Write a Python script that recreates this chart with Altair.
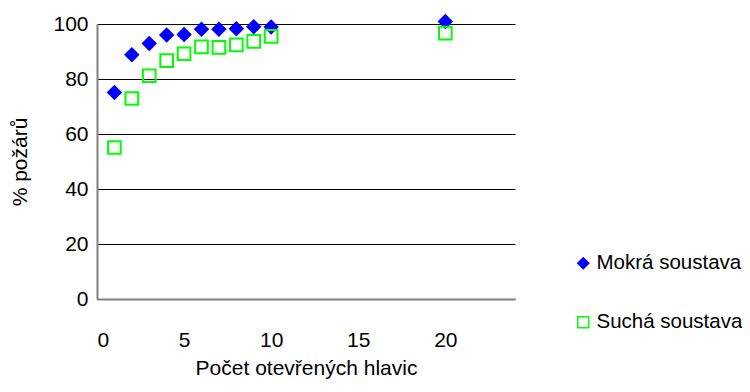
import altair as alt
import pandas as pd

x_vals = [1, 2, 3, 4, 5, 6, 7, 8, 9, 10, 20]
mokra = [75.1, 88.8, 92.9, 96.0, 96.2, 98.1, 98.1, 98.3, 99.0, 98.9, 100.9]
sucha = [55.1, 72.9, 81.2, 86.7, 89.2, 91.7, 91.5, 92.4, 93.7, 95.5, 96.7]
series = ["Mokrá soustava", "Suchá soustava"]

rows = []
for x, m, s in zip(x_vals, mokra, sucha):
    rows.append({"x": x, "y": m, "s": series[0]})
    rows.append({"x": x, "y": s, "s": series[1]})
df = pd.DataFrame(rows)

FONT = "Liberation Sans"

leg = dict(title=None, orient="none", legendX=476, legendY=229)

chart = alt.Chart(df).mark_point(strokeWidth=2, size=160, opacity=1).encode(
    x=alt.X("x:Q", scale=alt.Scale(domain=[0, 24], nice=False),
            axis=alt.Axis(values=[0, 5, 10, 15, 20], title="Počet otevřených hlavic",
                          grid=False, ticks=False, domainColor="#808080", domainWidth=2,
                          labelPadding=30, titlePadding=7)),
    y=alt.Y("y:Q", scale=alt.Scale(domain=[0, 100], nice=False),
            axis=alt.Axis(values=[0, 20, 40, 60, 80, 100], title="% požárů",
                          grid=True, gridColor="#000000", gridWidth=1,
                          ticks=False, domainColor="#808080", domainWidth=2,
                          labelPadding=9, titlePadding=22)),
    shape=alt.Shape("s:N", scale=alt.Scale(domain=series, range=["diamond", "square"]),
                    legend=alt.Legend(symbolSize=120, symbolStrokeWidth=1.5,
                                      rowPadding=38, labelFontSize=20.5, labelFont=FONT,
                                      labelColor="#000000", labelOffset=3, **leg)),
    stroke=alt.Stroke("s:N", scale=alt.Scale(domain=series, range=["#0000FF", "#00FF00"]),
                      legend=alt.Legend(**leg)),
    fill=alt.Fill("s:N", scale=alt.Scale(domain=series, range=["#0000FF", "transparent"]),
                  legend=alt.Legend(**leg)),
).properties(
    width=418, height=275,
    background="#FFFFFF",
    autosize=alt.AutoSizeParams(type="none"),
    padding={"left": 89, "top": 16, "right": 227, "bottom": 85},
).configure_view(stroke=None).configure_axis(
    labelFont=FONT, titleFont=FONT, labelFontSize=21, titleFontSize=21,
    labelColor="#000000", titleColor="#000000", titleFontWeight="normal",
)

chart.save("out.html", embed_options={"renderer": "svg", "actions": False})
